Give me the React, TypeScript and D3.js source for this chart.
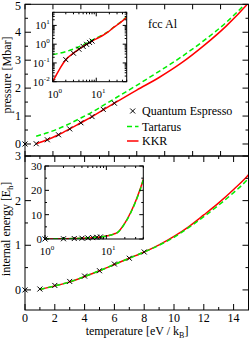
import React from "react";
import * as d3 from "d3";

// ---------- data ----------
const pressureT = [1, 2, 3, 4, 5, 6, 7, 8, 10, 12, 14, 16, 18, 20, 25, 30, 40, 50];
const kkrPressure = [0.01, 0.15, 0.33, 0.54, 0.76, 0.98, 1.22, 1.46, 1.93, 2.38, 2.9, 3.52, 4.22, 5.05, 7.8, 10.5, 17.5, 27];
const tartarusPressure = [0.28, 0.4, 0.55, 0.73, 0.93, 1.14, 1.38, 1.62, 2.1, 2.6, 3.12, 3.7, 4.35, 5.15, 8, 10.8, 18, 28.5];

const qeT = [0, 1, 2, 3, 4, 5, 6, 7, 8];
const qePressure = [0, 0.01, 0.15, 0.33, 0.54, 0.76, 0.98, 1.24, 1.46];
const qeEnergy = [0, 0.02, 0.1, 0.19, 0.31, 0.43, 0.58, 0.71, 0.85];

const energyT = [1, 2, 3, 4, 5, 6, 7, 8, 9, 10, 11, 12, 13, 14, 15, 20, 25, 30, 35, 40];
const kkrEnergy = [0.01, 0.09, 0.18, 0.3, 0.43, 0.57, 0.71, 0.85, 1.01, 1.2, 1.42, 1.68, 1.95, 2.25, 2.58, 6.5, 11, 15.5, 20, 24.5];
const tartarusEnergy = [0.01, 0.09, 0.18, 0.3, 0.43, 0.57, 0.71, 0.85, 1.0, 1.18, 1.4, 1.64, 1.9, 2.18, 2.5, 6.4, 10.8, 15.3, 19.8, 24.3];

const pressureTicks = [0, 1, 2, 3, 4, 5];
const energyTicks = [0, 1, 2, 3];
const tempTicks = [0, 2, 4, 6, 8, 10, 12, 14];
const insetEnergyTicks = [0, 10, 20, 30];
const insetPressureExps = [-2, -1, 0, 1];
const insetTempExps = [0, 1];

const legendLabels = ["Quantum Espresso", "Tartarus", "KKR"];

// ---------- styles ----------
const FONT = "'Liberation Serif', 'DejaVu Serif', serif";
const RED = "#ff0000";
const GREEN = "#00ee00";

const W = 251, H = 339;
const XL = 25, XR = 248.5;

// scales
const xTop = d3.scaleLinear().domain([0, 20]).range([XL, XR]);
const yTop = d3.scaleLinear().domain([-0.43, 5]).range([156, 4.3]);
const xBot = d3.scaleLinear().domain([0, 15]).range([XL, XR]);
const yBot = d3.scaleLinear().domain([-0.45, 3]).range([310, 156]);

const xIn1 = d3.scaleLog().domain([1, 50]).range([52.7, 126.7]);
const yIn1 = d3.scaleLog().domain([0.01, 50]).range([81.7, 12.3]);
const xIn2 = d3.scaleLog().domain([1, 40]).range([45, 143.3]);
const yIn2 = d3.scaleLinear().domain([0, 30]).range([239, 166]);

type Sc = (v: number) => number;

function pathFor(xs: number[], ys: number[], sx: Sc, sy: Sc) {
  const pts = xs.map((x, i) => [x, ys[i]] as [number, number]);
  return d3
    .line<[number, number]>()
    .x((d) => sx(d[0]))
    .y((d) => sy(d[1]))
    .curve(d3.curveMonotoneX)(pts) as string;
}

function Cross({ x, y, s = 2.5 }: { x: number; y: number; s?: number }) {
  return (
    <g stroke="#000" strokeWidth={1}>
      <line x1={x - s} y1={y - s} x2={x + s} y2={y + s} />
      <line x1={x - s} y1={y + s} x2={x + s} y2={y - s} />
    </g>
  );
}

function logMinor(lo: number, hi: number) {
  const out: number[] = [];
  for (let e = -3; e <= 3; e++) {
    for (let m = 1; m <= 9; m++) {
      const v = m * Math.pow(10, e);
      if (v >= lo * 0.9999 && v <= hi * 1.0001) out.push(v);
    }
  }
  return out;
}

function Frame({ x0, x1, y0, y1 }: { x0: number; x1: number; y0: number; y1: number }) {
  return <rect x={x0} y={y0} width={x1 - x0} height={y1 - y0} fill="none" stroke="#000" strokeWidth={1} />;
}

function XTicks({ vals, sx, y0, y1, len }: { vals: number[]; sx: Sc; y0: number; y1: number; len: (v: number) => number }) {
  return (
    <g stroke="#000" strokeWidth={1}>
      {vals.map((v, i) => (
        <g key={i}>
          <line x1={sx(v)} x2={sx(v)} y1={y1} y2={y1 - len(v)} />
          <line x1={sx(v)} x2={sx(v)} y1={y0} y2={y0 + len(v)} />
        </g>
      ))}
    </g>
  );
}
function YTicks({ vals, sy, x0, x1, len }: { vals: number[]; sy: Sc; x0: number; x1: number; len: (v: number) => number }) {
  return (
    <g stroke="#000" strokeWidth={1}>
      {vals.map((v, i) => (
        <g key={i}>
          <line y1={sy(v)} y2={sy(v)} x1={x0} x2={x0 + len(v)} />
          <line y1={sy(v)} y2={sy(v)} x1={x1} x2={x1 - len(v)} />
        </g>
      ))}
    </g>
  );
}

export default function App() {
  const topTicksX = d3.range(0, 20.01, 2.5);
  const topTicksY = d3.range(0, 5.01, 0.5);
  const botTicksX = d3.range(0, 15.01, 1);
  const botTicksY = d3.range(0, 3.01, 0.5);

  const isInt = (v: number) => Math.abs(v - Math.round(v)) < 1e-6;
  const isEven = (v: number) => isInt(v) && Math.round(v) % 2 === 0;
  const isDecade = (v: number) => Math.abs(Math.log10(v) - Math.round(Math.log10(v))) < 1e-6;

  const qeTop = qeT.map((t, i) => ({ t, v: qePressure[i] }));
  const qeBot = qeT.map((t, i) => ({ t, v: qeEnergy[i] }));

  const yIn1Top = 12.3, yIn1Bot = 81.7, xIn1L = 52.7, xIn1R = 126.7;
  const yIn2Top = 166, yIn2Bot = 239, xIn2L = 45, xIn2R = 143.3;

  return (
    <svg
      width={W}
      height={H}
      viewBox={`0 0 ${W} ${H}`}
      style={{ position: "absolute", left: 0, top: 0, background: "#fff" }}
      fontFamily={FONT}
    >
      <defs>
        <clipPath id="cTop"><rect x={XL} y={4.3} width={XR - XL} height={156 - 4.3} /></clipPath>
        <clipPath id="cBot"><rect x={XL} y={156} width={XR - XL} height={310 - 156} /></clipPath>
        <clipPath id="cIn1"><rect x={xIn1L} y={yIn1Top} width={xIn1R - xIn1L} height={yIn1Bot - yIn1Top} /></clipPath>
        <clipPath id="cIn2"><rect x={xIn2L} y={yIn2Top} width={xIn2R - xIn2L} height={yIn2Bot - yIn2Top} /></clipPath>
      </defs>
      <rect width={W} height={H} fill="#fff" />

      {/* ===== TOP PANEL ===== */}
      <g clipPath="url(#cTop)" fill="none">
        <path d={pathFor(pressureT, tartarusPressure, xTop, yTop)} stroke={GREEN} strokeWidth={1.5} strokeDasharray="5,3" />
        <path d={pathFor(pressureT, kkrPressure, xTop, yTop)} stroke={RED} strokeWidth={1.5} />
      </g>
      {qeTop.map((d, i) => (
        <Cross key={i} x={xTop(d.t)} y={yTop(d.v)} />
      ))}
      <Frame x0={XL} x1={XR} y0={4.3} y1={156} />
      <XTicks vals={topTicksX} sx={xTop} y0={4.3} y1={156} len={() => 5} />
      <YTicks vals={topTicksY} sy={yTop} x0={XL} x1={XR} len={(v) => (isInt(v) ? 6 : 3)} />
      {pressureTicks.map((v) => (
        <text key={v} x={21} y={Math.max(yTop(v) + 4, 9.5)} fontSize={12} textAnchor="end">{v}</text>
      ))}
      <text transform={`translate(11,75) rotate(-90)`} fontSize={12} textAnchor="middle">pressure [Mbar]</text>
      <text x={148} y={28} fontSize={12}>fcc Al</text>

      {/* legend */}
      <Cross x={132.7} y={111} />
      <text x={142} y={115} fontSize={12}>{legendLabels[0]}</text>
      <line x1={127} x2={138.5} y1={126.5} y2={126.5} stroke={GREEN} strokeWidth={1.5} strokeDasharray="5,3" />
      <text x={142} y={130.5} fontSize={12}>{legendLabels[1]}</text>
      <line x1={127} x2={138.5} y1={141} y2={141} stroke={RED} strokeWidth={1.5} />
      <text x={142} y={145} fontSize={12}>{legendLabels[2]}</text>

      {/* top inset */}
      <rect x={xIn1L} y={yIn1Top} width={xIn1R - xIn1L} height={yIn1Bot - yIn1Top} fill="#fff" />
      <g clipPath="url(#cIn1)" fill="none">
        <path d={pathFor(pressureT, tartarusPressure, xIn1, yIn1)} stroke={GREEN} strokeWidth={1.5} strokeDasharray="5,3" />
        <path d={pathFor(pressureT, kkrPressure, xIn1, yIn1)} stroke={RED} strokeWidth={1.5} />
        {qeTop.filter((d) => d.t >= 1 && d.v > 0).map((d, i) => (
          <Cross key={i} x={xIn1(d.t)} y={yIn1(d.v)} />
        ))}
      </g>
      <Frame x0={xIn1L} x1={xIn1R} y0={yIn1Top} y1={yIn1Bot} />
      <XTicks vals={logMinor(1, 50)} sx={xIn1} y0={yIn1Top} y1={yIn1Bot} len={(v) => (isDecade(v) ? 4 : 2)} />
      <YTicks vals={logMinor(0.01, 50)} sy={yIn1} x0={xIn1L} x1={xIn1R} len={(v) => (isDecade(v) ? 4 : 2)} />
      {insetPressureExps.map((e) => (
        <text key={e} x={xIn1L - 3} y={yIn1(Math.pow(10, e)) + 4} fontSize={11} textAnchor="end">
          10<tspan dy={-5} fontSize={7}>{e}</tspan>
        </text>
      ))}
      {insetTempExps.map((e) => (
        <text key={e} x={xIn1(Math.pow(10, e)) + 2} y={98} fontSize={11} textAnchor="middle">
          10<tspan dy={-5} fontSize={7}>{e}</tspan>
        </text>
      ))}

      {/* ===== BOTTOM PANEL ===== */}
      <g clipPath="url(#cBot)" fill="none">
        <path d={pathFor(energyT, kkrEnergy, xBot, yBot)} stroke={RED} strokeWidth={1.5} />
        <path d={pathFor(energyT, tartarusEnergy, xBot, yBot)} stroke={GREEN} strokeWidth={1.5} strokeDasharray="5,3" />
      </g>
      {qeBot.map((d, i) => (
        <Cross key={i} x={xBot(d.t)} y={yBot(d.v)} />
      ))}
      <Frame x0={XL} x1={XR} y0={156} y1={310} />
      <XTicks vals={botTicksX} sx={xBot} y0={156} y1={310} len={(v) => (isEven(v) ? 6 : 3)} />
      <YTicks vals={botTicksY} sy={yBot} x0={XL} x1={XR} len={(v) => (isInt(v) ? 6 : 3)} />
      {energyTicks.map((v) => (
        <text key={v} x={21} y={yBot(v) + 4} fontSize={12} textAnchor="end">{v}</text>
      ))}
      {tempTicks.map((v) => (
        <text key={v} x={xBot(v)} y={322} fontSize={12} textAnchor="middle">{v}</text>
      ))}
      <text transform={`translate(10,229) rotate(-90)`} fontSize={12} textAnchor="middle">
        internal energy [E<tspan dy={3} fontSize={8}>h</tspan><tspan dy={-3}>]</tspan>
      </text>
      <text x={137} y={334.5} fontSize={12} textAnchor="middle">
        temperature [eV / k<tspan dy={3} fontSize={8}>B</tspan><tspan dy={-3}>]</tspan>
      </text>

      {/* bottom inset */}
      <rect x={xIn2L} y={yIn2Top} width={xIn2R - xIn2L} height={yIn2Bot - yIn2Top} fill="#fff" />
      <g clipPath="url(#cIn2)" fill="none">
        <path d={pathFor(energyT, kkrEnergy, xIn2, yIn2)} stroke={RED} strokeWidth={1.5} />
        <path d={pathFor(energyT, tartarusEnergy, xIn2, yIn2)} stroke={GREEN} strokeWidth={1.5} strokeDasharray="5,3" />
      </g>
      {qeBot.filter((d) => d.t >= 1).map((d, i) => (
        <Cross key={i} x={xIn2(d.t)} y={yIn2(d.v)} />
      ))}
      <Frame x0={xIn2L} x1={xIn2R} y0={yIn2Top} y1={yIn2Bot} />
      <XTicks vals={logMinor(1, 40)} sx={xIn2} y0={yIn2Top} y1={yIn2Bot} len={(v) => (isDecade(v) ? 4 : 2)} />
      <YTicks vals={d3.range(0, 30.01, 5)} sy={yIn2} x0={xIn2L} x1={xIn2R} len={(v) => (v % 10 === 0 ? 4 : 2)} />
      {insetEnergyTicks.map((v) => (
        <text key={v} x={xIn2L - 3} y={yIn2(v) + 4} fontSize={11} textAnchor="end">{v}</text>
      ))}
      {insetTempExps.map((e) => (
        <text key={e} x={xIn2(Math.pow(10, e)) + 2} y={255} fontSize={11} textAnchor="middle">
          10<tspan dy={-5} fontSize={7}>{e}</tspan>
        </text>
      ))}
    </svg>
  );
}
